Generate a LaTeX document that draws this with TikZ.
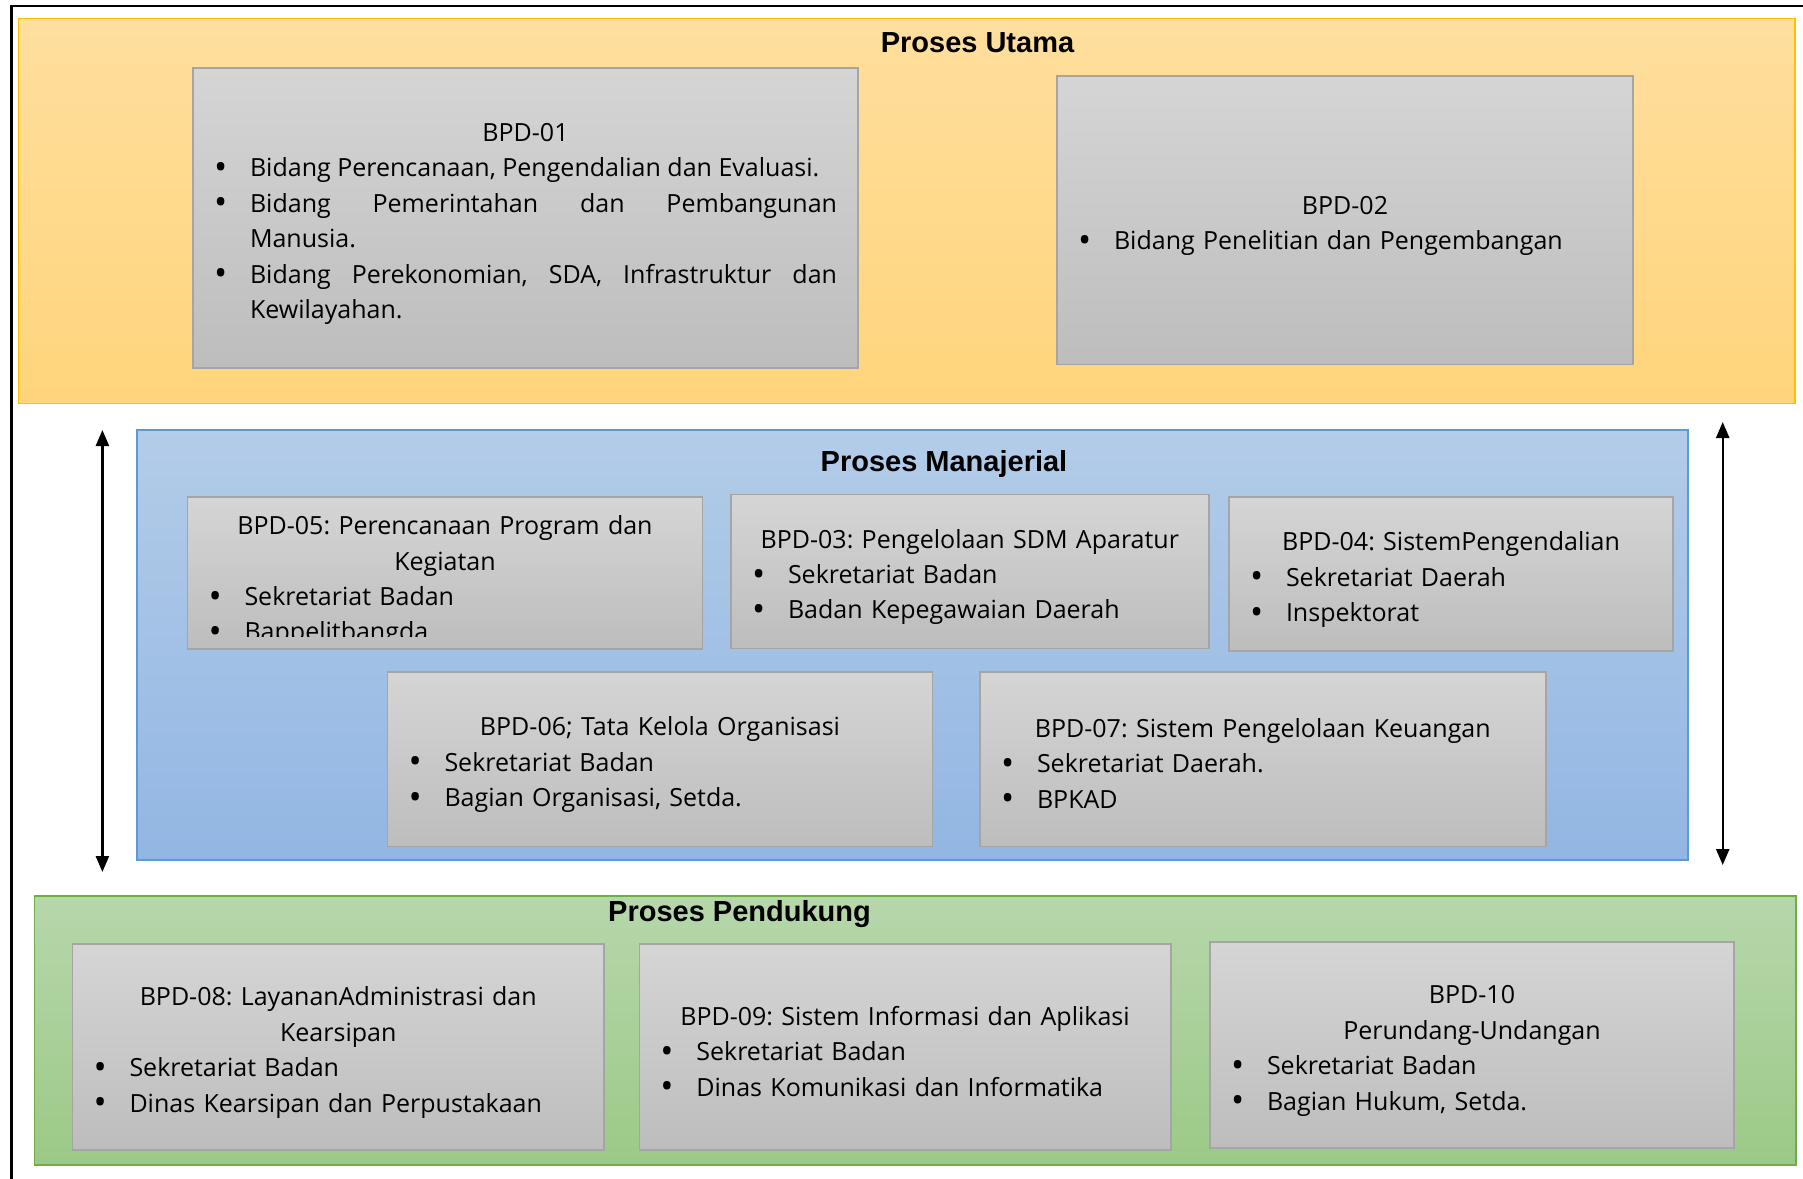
\documentclass[tikz,border=0pt]{standalone}
\usepackage{fontspec}
\setmainfont{Open Sans}
\newfontfamily\judulfont{Liberation Sans}
\usetikzlibrary{arrows.meta}

\definecolor{kuningatas}{HTML}{FFDF9E}
\definecolor{kuningbawah}{HTML}{FFD47B}
\definecolor{kuninggaris}{HTML}{FFC000}
\definecolor{biruatas}{HTML}{B3CCE8}
\definecolor{birubawah}{HTML}{92B6E3}
\definecolor{birugaris}{HTML}{5B9BD5}
\definecolor{hijauatas}{HTML}{B6D7AB}
\definecolor{hijaubawah}{HTML}{9CC987}
\definecolor{hijaugaris}{HTML}{70AD47}
\definecolor{abuatas}{HTML}{D5D5D5}
\definecolor{abubawah}{HTML}{BDBDBD}
\definecolor{abugaris}{HTML}{A5A5A5}

\newcommand{\isifont}{\fontsize{12.5}{17.7}\selectfont\frenchspacing}
\newcommand{\judul}[1]{{\centering\rule{0pt}{15pt}#1\par}}
\newcommand{\bulat}{\raisebox{-1.3pt}{\fontsize{17.5}{17.5}\selectfont\textbullet}}
\newcommand{\butir}[1]{\par\noindent\hangindent=18pt\hangafter=1\makebox[18pt][l]{\bulat}#1\par}
\setlength{\parindent}{0pt}
\hyphenpenalty=10000
\exhyphenpenalty=10000
\tolerance=10000

\begin{document}
\begin{tikzpicture}[x=0.5pt,y=-0.5pt]

      \useasboundingbox (0,0) rectangle (1803,1178);
      \draw[line width=1.3pt] (11.5,1200) |- (1830,6);

      \begin{scope}[every node/.style={rectangle, draw, line width=0.8pt, inner sep=0pt}]
        \node[draw=kuninggaris, top color=kuningatas, bottom color=kuningbawah, minimum width=888.3pt, minimum height=192.6pt] (utama) at (906.7,211) {};
        \node[draw=birugaris, top color=biruatas, bottom color=birubawah, minimum width=775.5pt, minimum height=215pt] (manajerial) at (912.5,645) {};
        \node[draw=hijaugaris, top color=hijauatas, bottom color=hijaubawah, minimum width=880.75pt, minimum height=134.5pt] (pendukung) at (915.25,1030.5) {};
      \end{scope}

      \begin{scope}[every node/.style={font=\judulfont\bfseries\fontsize{14.5}{17}\selectfont, inner sep=0pt}]
        \node (tutama)      at (977.5,42.5) {Proses Utama};
        \node (tmanajerial) at (944,463.5)  {Proses Manajerial};
        \node (tpendukung)  at (739.5,914)  {Proses Pendukung};
      \end{scope}

      \begin{scope}[every node/.style={rectangle, draw=abugaris, line width=0.9pt, top color=abuatas, bottom color=abubawah, inner xsep=10.5pt, inner ysep=0pt, font=\isifont}]
        \node[text width=311.5pt, align=justify, minimum height=150pt] (bpd1) at (525.5,218)
          {\judul{BPD-01}\butir{Bidang Perencanaan, Pengendalian dan Evaluasi.}\butir{Bidang Pemerintahan dan Pembangunan\linebreak Manusia.}\butir{Bidang Perekonomian, SDA, Infrastruktur dan\linebreak Kewilayahan.}};
        \node[text width=267pt, minimum height=144.25pt] (bpd2) at (1345,220.25)
          {\judul{BPD-02}\butir{Bidang Penelitian dan Pengembangan}};
        \node[text width=236.5pt, minimum height=75.8pt] (bpd5) at (445,572.8) {};
        \node[text width=217.8pt, minimum height=77pt] (bpd3) at (969.8,571.5)
          {\judul{BPD-03: Pengelolaan SDM Aparatur}\butir{Sekretariat Badan}\butir{Badan Kepegawaian Daerah}};
        \node[text width=201pt, minimum height=77pt] (bpd4) at (1451,574)
          {\judul{BPD-04: SistemPengendalian}\butir{Sekretariat Daerah}\butir{Inspektorat}};
        \node[text width=251.5pt, minimum height=87.4pt] (bpd6) at (660,759)
          {\judul{BPD-06; Tata Kelola Organisasi}\butir{Sekretariat Badan}\butir{Bagian Organisasi, Setda.}};
        \node[text width=261.8pt, minimum height=87.4pt] (bpd7) at (1262.8,759)
          {\judul{BPD-07: Sistem Pengelolaan Keuangan}\butir{Sekretariat Daerah.}\butir{BPKAD}};
        \node[text width=244.75pt, minimum height=103pt] (bpd8) at (338.25,1047)
          {\judul{BPD-08: LayananAdministrasi dan\\Kearsipan}\butir{Sekretariat Badan}\butir{Dinas Kearsipan dan Perpustakaan}};
        \node[text width=244.6pt, minimum height=103pt] (bpd9) at (905,1047)
          {\judul{BPD-09: Sistem Informasi dan Aplikasi}\butir{Sekretariat Badan}\butir{Dinas Komunikasi dan Informatika}};
        \node[text width=241pt, minimum height=103pt] (bpd10) at (1472,1045)
          {\judul{BPD-10\\Perundang-Undangan}\butir{Sekretariat Badan}\butir{Bagian Hukum, Setda.}};
      \end{scope}

      \begin{scope}
        \clip (bpd5.north west) rectangle ([yshift=6.3pt]bpd5.south east);
        \node[font=\isifont, text width=236.5pt, inner xsep=10.5pt, inner ysep=0pt] (bpd5isi) at (445,575.7)
          {\judul{BPD-05: Perencanaan Program dan\\Kegiatan}\butir{Sekretariat Badan}\butir{Bappelitbangda}};
      \end{scope}

      \coordinate (kiriatas)   at (102.4,430);
      \coordinate (kiribawah)  at (102.4,872);
      \coordinate (kananatas)  at (1722.7,422);
      \coordinate (kananbawah) at (1722.7,865);

      \begin{scope}[every edge/.style={draw, line width=1.2pt, arrows={Triangle[width=6.5pt,length=8pt]-Triangle[width=6.5pt,length=8pt]}}]
        \path (kiriatas)  edge (kiribawah);
        \path (kananatas) edge (kananbawah);
      \end{scope}

    \end{tikzpicture}
\end{document}
